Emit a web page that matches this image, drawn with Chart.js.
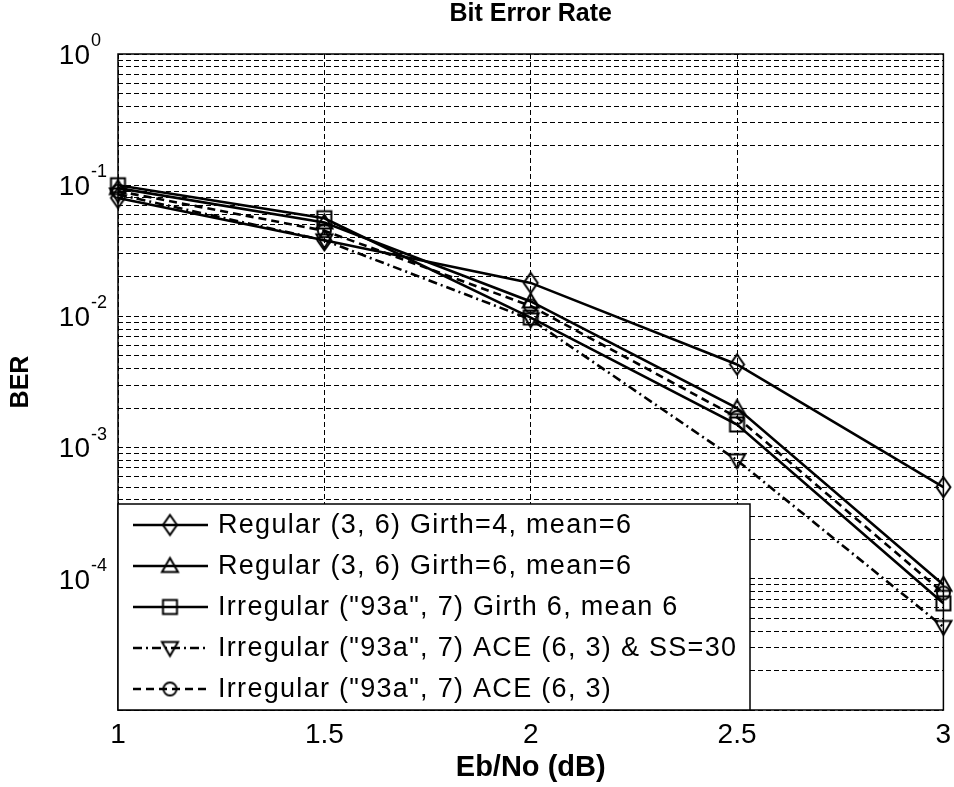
<!DOCTYPE html>
<html>
<head>
<meta charset="utf-8">
<script src="https://cdn.jsdelivr.net/npm/chart.js@4.4.1/dist/chart.umd.min.js"></script>
<style>
  html, body { margin: 0; padding: 0; background: #fff; }
  canvas { display: block; }
</style>
</head>
<body>
<canvas id="berChart" width="954" height="787"></canvas>
<script>
// values
const ebNo = [1, 1.5, 2, 2.5, 3];
const berRegGirth4 = [0.08, 0.038, 0.018, 0.0043, 0.0005];
const berRegGirth6 = [0.095, 0.052, 0.013, 0.002, 0.00009];
const berIrrGirth6 = [0.1, 0.056, 0.0098, 0.0015, 0.000065];
const berIrrAceSS = [0.085, 0.038, 0.0095, 0.0008, 0.000043];
const berIrrAce = [0.09, 0.045, 0.012, 0.0017, 0.000078];

const seriesLabels = [
  'Regular (3, 6) Girth=4, mean=6',
  'Regular (3, 6) Girth=6, mean=6',
  'Irregular ("93a", 7) Girth 6, mean 6',
  'Irregular ("93a", 7) ACE (6, 3) & SS=30',
  'Irregular ("93a", 7) ACE (6, 3)'
];

const chartTitle = 'Bit Error Rate';
const xTicks = [1, 1.5, 2, 2.5, 3];
const xTickLabels = ['1', '1.5', '2', '2.5', '3'];
const yTickExps = [0, -1, -2, -3, -4];
const yMinExp = -5;
const yGridMantissas = [1, 2, 3, 4, 5, 6, 7, 8, 9];

const FONT = '"Liberation Sans", Arial, Helvetica, sans-serif';
Chart.defaults.font.family = FONT;
Chart.defaults.color = '#000';

// hollow matlab style markers
function makeMarker(shape) {
  const c = document.createElement('canvas');
  c.width = 25; c.height = 25;
  const g = c.getContext('2d');
  const m = 12.5;
  g.strokeStyle = '#000';
  g.lineWidth = 2;
  g.beginPath();
  if (shape === 'diamond') {
    g.moveTo(m, m - 10); g.lineTo(m + 7, m); g.lineTo(m, m + 10); g.lineTo(m - 7, m); g.closePath();
  } else if (shape === 'up') {
    g.moveTo(m, m - 8); g.lineTo(m + 8, m + 6); g.lineTo(m - 8, m + 6); g.closePath();
  } else if (shape === 'down') {
    g.moveTo(m, m + 8); g.lineTo(m + 8, m - 6); g.lineTo(m - 8, m - 6); g.closePath();
  } else if (shape === 'square') {
    g.rect(m - 7, m - 7, 14, 14);
  } else {
    g.arc(m, m, 6.5, 0, Math.PI * 2);
  }
  g.stroke();
  return c;
}

function series(label, values, shape, dash) {
  return {
    label: label,
    data: ebNo.map((x, i) => ({ x: x, y: values[i] })),
    borderColor: '#000',
    borderWidth: 2.6,
    borderDash: dash,
    tension: 0,
    fill: false,
    clip: false,
    pointStyle: makeMarker(shape),
    pointRadius: 8
  };
}

// axes box + title centred over the plot area, like matlab
const frame = {
  id: 'frame',
  afterDatasetsDraw(chart) {
    const { ctx, chartArea: a } = chart;
    ctx.save();
    ctx.strokeStyle = '#000';
    ctx.lineWidth = 1.5;
    ctx.strokeRect(a.left, a.top, a.right - a.left, a.bottom - a.top);
    ctx.font = 'bold 25px ' + FONT;
    ctx.fillStyle = '#000';
    ctx.textAlign = 'center';
    ctx.textBaseline = 'middle';
    ctx.fillText(chartTitle, (a.left + a.right) / 2, 14);
    ctx.restore();
  }
};

const yLabels = {
  id: 'yLabels',
  afterDraw(chart) {
    const { ctx } = chart;
    const y = chart.scales.y;
    ctx.save();
    ctx.fillStyle = '#000';
    yTickExps.forEach(e => {
      const py = y.getPixelForValue(Math.pow(10, e));
      ctx.font = '28px ' + FONT;
      ctx.textAlign = 'right';
      ctx.textBaseline = 'middle';
      ctx.fillText('10', 90, py + 2);
      ctx.font = '18px ' + FONT;
      ctx.textAlign = 'left';
      ctx.textBaseline = 'alphabetic';
      ctx.fillText(String(e), 91, py - 8);
    });
    ctx.restore();
  }
};

const legendBox = {
  id: 'legendBox',
  afterDraw(chart) {
    const { ctx, chartArea: a } = chart;
    const left = a.left, right = 750, top = 504, bottom = a.bottom;
    ctx.save();
    ctx.fillStyle = '#fff';
    ctx.fillRect(left, top, right - left, bottom - top);
    ctx.strokeStyle = '#000';
    ctx.lineWidth = 1.5;
    ctx.strokeRect(left, top, right - left, bottom - top);
    chart.data.datasets.forEach((ds, i) => {
      const ry = top + 21 + i * 41;
      ctx.setLineDash(ds.borderDash || []);
      ctx.lineWidth = 2.6;
      ctx.beginPath();
      ctx.moveTo(left + 15, ry);
      ctx.lineTo(left + 90, ry);
      ctx.stroke();
      ctx.setLineDash([]);
      ctx.drawImage(ds.pointStyle, left + 52 - 12.5, ry - 12.5);
      ctx.font = '27px ' + FONT;
      ctx.letterSpacing = '1.3px';
      ctx.textAlign = 'left';
      ctx.textBaseline = 'middle';
      ctx.fillStyle = '#000';
      ctx.fillText(ds.label, left + 100, ry + 1);
    });
    ctx.restore();
  }
};

new Chart(document.getElementById('berChart'), {
  type: 'line',
  data: {
    datasets: [
      series(seriesLabels[0], berRegGirth4, 'diamond', []),
      series(seriesLabels[1], berRegGirth6, 'up', []),
      series(seriesLabels[2], berIrrGirth6, 'square', []),
      series(seriesLabels[3], berIrrAceSS, 'down', [9, 4, 2, 4]),
      series(seriesLabels[4], berIrrAce, 'circle', [8, 5])
    ]
  },
  options: {
    responsive: false,
    animation: false,
    devicePixelRatio: 1,
    layout: { padding: { left: 0, right: 4, top: 54, bottom: 0 } },
    plugins: {
      legend: { display: false },
      tooltip: { enabled: false },
      title: { display: false }
    },
    scales: {
      x: {
        type: 'linear',
        min: 1,
        max: 3,
        afterBuildTicks: s => { s.ticks = xTicks.map(v => ({ value: v })); },
        afterFit: s => { s.height = 77; s.paddingLeft = 0; s.paddingRight = 0; },
        ticks: {
          callback: (v, i) => xTickLabels[i],
          font: { size: 28 },
          color: '#000',
          padding: 8,
          maxRotation: 0,
          autoSkip: false
        },
        grid: { color: '#000', lineWidth: 1, drawTicks: false },
        border: { display: false, dash: [5, 3] },
        title: {
          display: true,
          text: 'Eb/No (dB)',
          color: '#000',
          font: { size: 29, weight: 'bold' },
          padding: { top: 0, bottom: 2 }
        }
      },
      y: {
        type: 'logarithmic',
        min: Math.pow(10, yMinExp),
        max: 1,
        afterBuildTicks: s => {
          const t = [];
          for (let e = yMinExp; e < 0; e++) {
            yGridMantissas.forEach(m => t.push({ value: m * Math.pow(10, e), major: m === 1 }));
          }
          t.push({ value: 1, major: true });
          s.ticks = t;
        },
        afterFit: s => { s.width = 118; s.paddingTop = 0; s.paddingBottom = 0; },
        ticks: { display: false },
        grid: { color: '#000', lineWidth: 1, drawTicks: false },
        border: { display: false, dash: [5, 3] },
        title: {
          display: true,
          text: 'BER',
          color: '#000',
          font: { size: 25, weight: 'bold' },
          padding: { top: 6, bottom: 0 }
        }
      }
    }
  },
  plugins: [frame, yLabels, legendBox]
});
</script>
</body>
</html>
